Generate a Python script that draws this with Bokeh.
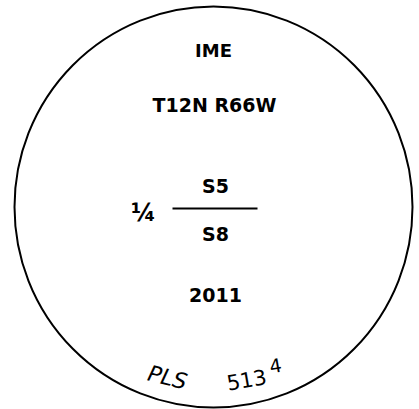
from bokeh.plotting import figure
from bokeh.models import Range1d
from bokeh.embed import file_html
from bokeh.resources import INLINE
from bokeh.core.properties import value

# --- content ---
top_labels = ["IME"]
mid_labels = ["T12N R66W", "S5", "S8", "2011"]
fraction_label = ["¼"]
arc_labels = ["PLS", "513", "4"]

# --- layout (page-pixel coordinates) ---
top_x, top_y = [213], [50]
mid_x, mid_y = [214, 215, 215, 215], [104, 185, 233, 294]
frac_x, frac_y = [143], [212]
arc_x, arc_y = [167, 246, 275], [377, 379, 365]
arc_angle = [-14, 10, 10]
arc_size = ["22px", "21px", "19px"]
arc_style = ["italic", "normal", "normal"]

p = figure(width=419, height=409, output_backend="svg", toolbar_location=None,
           x_range=Range1d(0, 419), y_range=Range1d(409, 0),
           min_border=0, outline_line_color=None)
p.axis.visible = False
p.grid.visible = False
p.background_fill_color = "white"
p.border_fill_color = "white"

p.ellipse(x=[213], y=[206.5], width=[398], height=[401],
          fill_color=None, line_color="black", line_width=2)

p.text(x=top_x, y=top_y, text=top_labels, text_font=value("DejaVu Sans"),
       text_font_size="18px", text_font_style="bold", text_align="center",
       text_baseline="middle", text_color="black")
p.text(x=mid_x, y=mid_y, text=mid_labels, text_font=value("DejaVu Sans"),
       text_font_size="19px", text_font_style="bold", text_align="center",
       text_baseline="middle", text_color="black")
p.text(x=frac_x, y=frac_y, text=fraction_label, text_font=value("DejaVu Sans"),
       text_font_size="24px", text_font_style="bold", text_align="center",
       text_baseline="middle", text_color="black")

p.segment(x0=[172], y0=[208], x1=[257], y1=[208], line_color="black", line_width=2)

for t, x, y, a, s, st in zip(arc_labels, arc_x, arc_y, arc_angle, arc_size, arc_style):
    p.text(x=[x], y=[y], text=[t], angle=a, angle_units="deg",
           text_font=value("DejaVu Sans"), text_font_size=s, text_font_style=st,
           text_align="center", text_baseline="middle", text_color="black")

open("out.html", "w").write(file_html(p, INLINE))
